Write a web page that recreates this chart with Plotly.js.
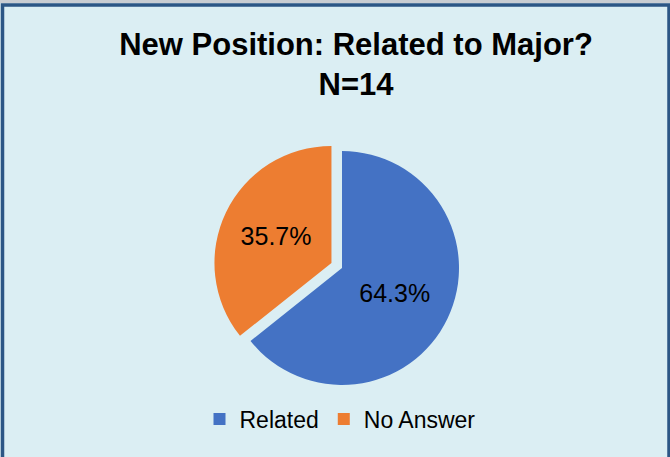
<!DOCTYPE html>
<html>
<head>
<meta charset="utf-8">
<script src="https://cdn.plot.ly/plotly-3.0.1.min.js"></script>
<style>
  html, body { margin: 0; padding: 0; background: #DBEEF3; }
  #chart { width: 670px; height: 457px; }
</style>
</head>
<body>
<div id="chart"></div>
<script>
const titleLine1 = "New Position: Related to Major?";
const titleLine2 = "N=14";
const categories = ["Related", "No Answer"];
const counts = [9, 5];
const sliceColors = ["#4472C4", "#ED7D31"];
const pulls = [0, 0.1];

const FONT = '"Liberation Sans", Arial, sans-serif';

const W = 670, H = 457;
const cx = 342, cy = 268, r = 117;
const half = r * (1 + Math.max(...pulls));

const trace = {
  type: "pie",
  labels: categories,
  values: counts,
  sort: false,
  direction: "clockwise",
  rotation: 0,
  pull: pulls,
  marker: { colors: sliceColors, line: { width: 0 } },
  textinfo: "percent",
  texttemplate: "%{percent:.1%}",
  textposition: "inside",
  insidetextorientation: "horizontal",
  textfont: { family: FONT, size: 25, color: "#000000" },
  hoverinfo: "label+value+percent",
  domain: {
    x: [(cx - half) / W, (cx + half) / W],
    y: [(H - cy - half) / H, (H - cy + half) / H]
  }
};

const layout = {
  width: W,
  height: H,
  margin: { l: 0, r: 0, t: 0, b: 0 },
  paper_bgcolor: "#DBEEF3",
  plot_bgcolor: "#DBEEF3",
  font: { family: FONT, color: "#000000" },
  title: {
    text: "<b>" + titleLine1 + "<br>" + titleLine2 + "</b>",
    font: { family: FONT, size: 31, color: "#000000" },
    x: 356 / W,
    xanchor: "center",
    y: 1 - 55 / H,
    yanchor: "top"
  },
  showlegend: true,
  legend: {
    orientation: "h",
    x: 340 / W,
    xanchor: "center",
    y: 1 - 419 / H,
    yanchor: "middle",
    bgcolor: "rgba(0,0,0,0)",
    font: { family: FONT, size: 23, color: "#000000" },
    traceorder: "normal"
  },
  shapes: [
    {
      type: "line", xref: "paper", yref: "paper",
      x0: 0, x1: 1, y0: 1 - 1.5 / H, y1: 1 - 1.5 / H,
      line: { color: "#C9CDD2", width: 3 }
    },
    {
      type: "rect", xref: "paper", yref: "paper",
      x0: 2.5 / W, x1: 669 / W, y0: -0.02, y1: 1 - 5 / H,
      line: { color: "#2C5685", width: 3.5 },
      fillcolor: "rgba(0,0,0,0)"
    }
  ]
};

Plotly.newPlot("chart", [trace], layout, { displayModeBar: false, staticPlot: true });
</script>
</body>
</html>
